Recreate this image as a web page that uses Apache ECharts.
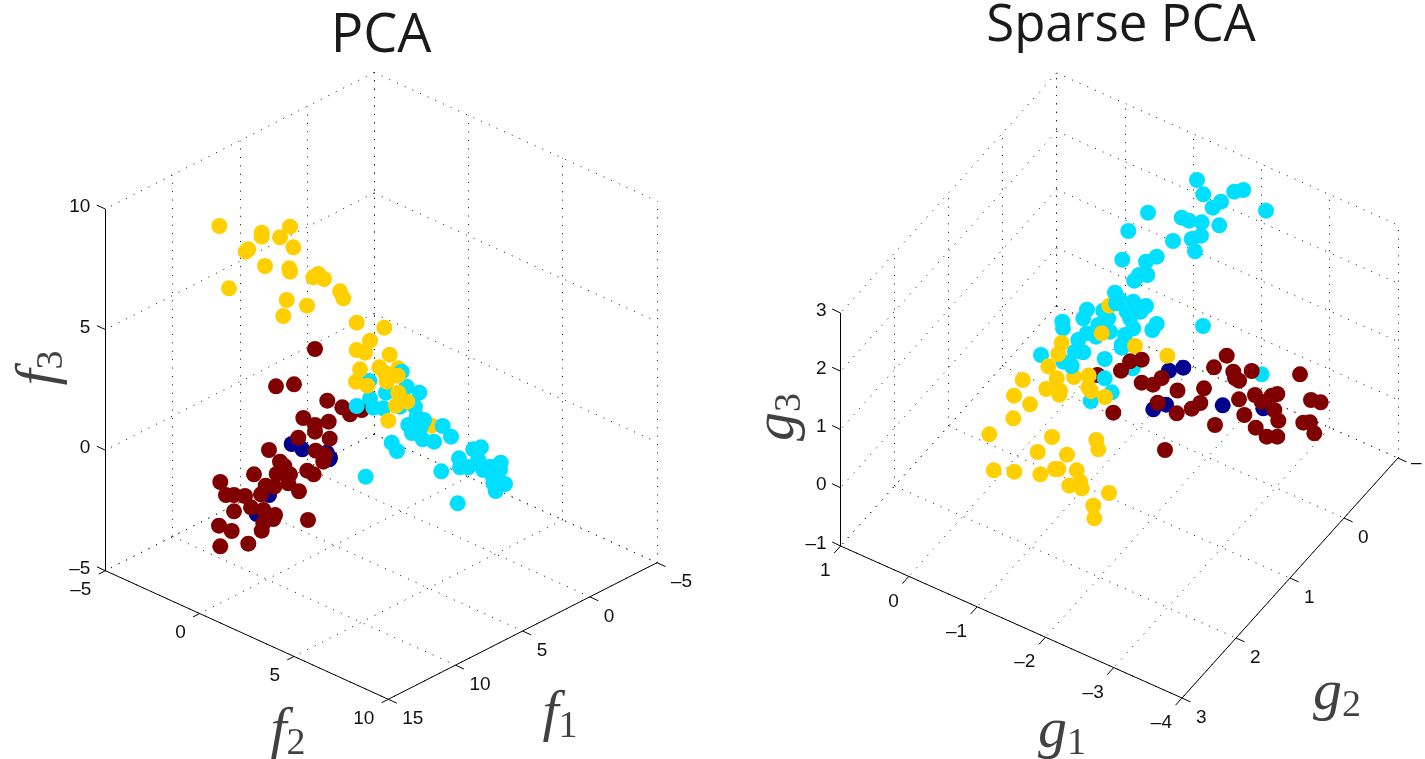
<!DOCTYPE html>
<html>
<head>
<meta charset="utf-8">
<style>html,body{margin:0;padding:0;background:#fff}#c{width:1425px;height:759px}</style>
<script src="https://cdn.jsdelivr.net/npm/echarts@6/dist/echarts.min.js"></script>
</head>
<body>
<div id="c"></div>
<script>
// Tick values
const f1Ticks = [-5, 0, 5, 10, 15];
const f2Ticks = [-5, 0, 5, 10];
const f3Ticks = [-5, 0, 5, 10];
const g1Ticks = [1, 0, -1, -2, -3, -4];
const g2Ticks = [-1, 0, 1, 2, 3];
const g3Ticks = [-1, 0, 1, 2, 3];

// PCA panel: points, in the panel's projected view plane
const pcaNavy = [[291.7,444],[302.3,449.3],[326.7,452.7],[329.3,459.3],[269,495],[256.7,514],[330,458]];
const pcaRed = [[315,349],[276,386.3],[294,384.3],[327.3,400.7],[342.3,407.3],[350,414.3],[361.7,410],[303.3,418],[315,425],[315,431.7],[328.7,421.7],[329.7,438.7],[298.3,437.7],[269,450],[315.7,450.7],[325,455],[323.3,461.7],[280,461.7],[284.3,466],[276.7,474],[290,474.3],[307.3,470.7],[313.7,474.3],[254,474.3],[288.3,483.3],[265.7,485.7],[274.3,486.7],[299,491.3],[220.3,482],[226,495],[234,495],[245,496],[261,494.3],[251,507.3],[263.3,510],[234,511.3],[275,515],[273.3,519],[263.3,523.3],[261.7,530.7],[308,520],[219,525.7],[231.7,531],[220.3,546.3],[248.3,543.7]];
const pcaYellowUnder = [[398.3,368.3],[431.7,425.7]];
const pcaCyan = [[369.3,381],[401.7,371.7],[370,398.3],[356.7,406],[386,392.7],[406.7,386.7],[419.3,392.7],[373.3,407.7],[383.3,408.3],[400,406.7],[415,406.7],[408.3,425],[416.7,416.7],[420.7,426.7],[424,420],[412,433],[422.7,439.3],[434,441.7],[442.7,426],[451,436.7],[391.7,442.7],[397,451],[365.7,476.7],[441.3,471.3],[457.7,503.3],[473.3,449.3],[481,447.3],[459,458.3],[460,467.3],[468.3,467.3],[478.3,460],[483.3,470],[490,466.7],[500.7,462.7],[500,470],[493.3,478.3],[505,484],[495.7,491],[493.3,483.3]];
const pcaYellow = [[219.3,226],[261.7,232.7],[261.7,236.7],[290,226.7],[280,237.3],[293.3,247.3],[248.3,249.3],[245.7,251.7],[265,266],[289.3,268.3],[290,271.7],[318.3,274],[313.3,277.3],[324,279],[340,291.3],[343.3,298.3],[229,288.3],[286.7,300],[307,305.7],[283.3,316],[356.7,322.7],[384.3,327.7],[370,340.7],[356.7,350],[365,352.7],[389.7,354.7],[360,369.3],[379.3,367.3],[385,373],[397.7,375.7],[356,381.7],[367.3,385.7],[386.7,381.7],[398.3,392.7],[407.3,401.7],[396,405.7],[388.3,420.7]];

// Sparse PCA panel
const spcaNavy = [[1169,370.7],[1183.3,367.7],[1166,404.7],[1153.3,409.3],[1222.7,405.3],[1263.3,408.3]];
const spcaRedUnder = [[1097.5,375]];
const spcaCyanUnder = [[1261.7,374.3],[1132.7,368.3],[1111.7,392.3],[1090.7,401.2],[1203,326],[1197,180],[1203.3,194.3],[1243.3,190],[1234.3,191.7],[1221,201.7],[1212.7,207.7],[1266,210.7],[1148,212.7],[1181.7,217.7],[1189,220.7],[1201.7,222.3],[1219.3,225.3],[1128.3,231],[1173,241],[1201,235.7],[1191.7,239],[1195,251.3],[1122.3,259.7],[1156.7,256.7],[1146,261.7],[1147.3,275],[1139,275],[1134.3,280.7],[1133.3,301.7],[1146,306],[1140.7,311.7],[1087,309.7],[1083.3,318.3],[1103.3,310.7],[1062.3,321.7],[1063,328.3],[1126.7,311.7],[1130,318.3],[1156.7,324],[1152.3,330],[1133.3,328.3],[1108.3,318.3],[1098.3,325],[1110,331.7],[1125,335],[1086.7,333.3],[1096,336.7],[1078.3,340],[1121.7,345],[1041,355],[1075,351.7],[1083.3,352.3],[1063.3,361.7],[1104.7,359],[1121.7,347.7]];
const spcaYellow = [[1109.3,305.7],[1101.7,333.3],[1061.7,343],[1135,346],[1058.3,354],[1048.3,366.3],[1022.7,380],[1056.7,378.3],[1074,377],[1088.7,375.5],[1046.3,389],[1060,390.7],[1059.3,394.7],[1088.3,387.3],[1091,391.2],[1105,397],[1030,404.3],[1167.3,355.7],[1014,395.7],[1013.3,418.3],[989.3,434.3],[1052,437],[1096.3,440],[1098.3,449.3],[1037.7,452],[1067,454.7],[993.7,470.3],[1014.3,471.7],[1040.3,474.3],[1055,469],[1058.3,469],[1076.7,470.3],[1080,481.7],[1069.3,485.7],[1081.7,488.3],[1109,493],[1093.3,505.7],[1094.3,518.3]];
const spcaCyanTop = [[1071.7,366],[1104.7,378.3],[1116,303.3],[1115,292.7],[1120,300]];
const spcaRed = [[1121,370.7],[1130,361.3],[1141.7,359.7],[1141.7,382.7],[1153,384.7],[1161.7,378],[1177.5,390.5],[1226.7,355.7],[1214,367.3],[1233.3,371.7],[1235,378],[1239,380.7],[1251.7,371],[1300,374.3],[1204,388.3],[1157.7,402.7],[1200.3,403],[1191.7,408.7],[1176.7,413.3],[1239,399.3],[1255,395],[1261.7,401.7],[1271.7,395.7],[1277.3,394],[1274.3,410],[1244.3,415],[1278.3,420.7],[1215,425],[1255.7,427.7],[1266.7,436.7],[1277.3,436.7],[1303.3,422.7],[1310,422.3],[1314.3,433.3],[1311,400],[1320.7,402.3],[1165,450],[1113.3,412.7]];

const NAVY = '#00008F', RED = '#800000', CYAN = '#00DFFF', YELLOW = '#FFCF00';
const INK = '#111111';

// View projections of each 3-D box
const projA = (a, b, c) => [105.4 + (a - 15) * -13.435 + (b + 5) * 18.86, 570.7 + (a - 15) * 6.83 + (b + 5) * 8.573 - (c + 5) * 24.11];
const projB = (a, b, c) => [840.6 + (a - 1) * -68.28 + (b - 3) * -54, 546 + (a - 1) * -30.4 + (b - 3) * 60 - (c + 1) * 58.25];

function boxParts(P, A, B, C, cfg) {
  const a0 = cfg.aBack, a1 = cfg.aFront, b0 = cfg.bBack, b1 = cfg.bFront;
  const c0 = C[0], c1 = C[C.length - 1];
  const grid = [], axes = [], labels = [];
  const seg = (arr, p, q) => arr.push({ coords: [p, q] });
  // floor
  A.forEach(a => seg(grid, P(a, b0, c0), P(a, b1, c0)));
  B.forEach(b => seg(grid, P(a0, b, c0), P(a1, b, c0)));
  // back wall along A (at b = b0)
  A.forEach(a => seg(grid, P(a, b0, c0), P(a, b0, c1)));
  C.forEach(c => seg(grid, P(a0, b0, c), P(a1, b0, c)));
  // back wall along B (at a = a0)
  B.forEach(b => seg(grid, P(a0, b, c0), P(a0, b, c1)));
  C.forEach(c => seg(grid, P(a0, b0, c), P(a0, b1, c)));
  // axes
  seg(axes, P(a1, b0, c0), P(a1, b1, c0));
  seg(axes, P(a1, b1, c0), P(a0, b1, c0));
  seg(axes, P(a1, b0, c0), P(a1, b0, c1));
  const shift = (p, d) => [p[0] + d[0], p[1] + d[1]];
  B.forEach(b => {
    const p = P(a1, b, c0);
    seg(axes, p, shift(p, cfg.tickB));
    labels.push({ value: shift(p, cfg.labB), name: String(b).replace('-', '\u2013'), align: 'right' });
  });
  A.forEach(a => {
    const p = P(a, b1, c0);
    seg(axes, p, shift(p, cfg.tickA));
    if (a === cfg.cutA) {
      // label runs off the page edge in the source: only its minus sign survives
      labels.push({ value: shift(p, cfg.labCut), name: '\u2013', align: 'left' });
      return;
    }
    labels.push({ value: shift(p, cfg.labA), name: String(a).replace('-', '\u2013'), align: 'left' });
  });
  C.forEach(c => {
    const p = P(a1, b0, c);
    seg(axes, p, shift(p, cfg.tickC));
    labels.push({ value: shift(p, cfg.labC), name: String(c).replace('-', '\u2013'), align: 'right' });
  });
  return { grid, axes, labels };
}

// PCA: a = f1, b = f2, c = f3. Sparse PCA: a = g2, b = g1
const boxA = boxParts(projA, f1Ticks, f2Ticks, f3Ticks, {
  aBack: -5, aFront: 15, bBack: -5, bFront: 10,
  tickB: [-6.7, 3.4], labB: [-14, 19.5], tickA: [8.5, 3.9], labA: [14, 19.5], tickC: [-8.5, -3.9], labC: [-15, -2]
});
const projB2 = (a, b, c) => projB(b, a, c);
const boxB = boxParts(projB2, g2Ticks, g1Ticks, g3Ticks, {
  aBack: -1, aFront: 3, bBack: 1, bFront: -4, cutA: -1, labCut: [13, 5],
  tickB: [-6.5, 7.2], labB: [-10, 25], tickA: [8.6, 3.9], labA: [14, 20], tickC: [-8.5, -4], labC: [-14, -2.5]
});

const names = [
  { value: [560, 715], f: 'f', n: '1', rot: 0, g: 0 },
  { value: [288, 732], f: 'f', n: '2', rot: 0, g: 0 },
  { value: [40, 368], f: 'f', n: '3', rot: 90, g: 0 },
  { value: [1062, 732], f: 'g', n: '1', rot: 0, g: 1 },
  { value: [1337, 694], f: 'g', n: '2', rot: 0, g: 1 },
  { value: [778, 417], f: 'g', n: '3', rot: 90, g: 1 }
];

function dots(name, color, data, g) {
  return { type: 'scatter', name, data, xAxisIndex: g, yAxisIndex: g, symbol: 'circle', symbolSize: 16,
    itemStyle: { color, opacity: 1 }, silent: true, animation: false, clip: false };
}
function wire(box, g) {
  return [
    { type: 'lines', coordinateSystem: 'cartesian2d', xAxisIndex: g, yAxisIndex: g, data: box.grid, silent: true, animation: false, clip: false,
      lineStyle: { color: '#111', width: 1, type: [1, 7.4], opacity: 1, curveness: 0 }, symbol: 'none' },
    { type: 'lines', coordinateSystem: 'cartesian2d', xAxisIndex: g, yAxisIndex: g, data: box.axes, silent: true, animation: false, clip: false,
      lineStyle: { color: '#000', width: 1, opacity: 1, curveness: 0 }, symbol: 'none' },
    { type: 'scatter', xAxisIndex: g, yAxisIndex: g, symbolSize: 0, silent: true, animation: false, clip: false,
      data: box.labels.map(d => ({ value: d.value, name: d.name, label: { align: d.align } })),
      label: { show: true, position: 'inside', formatter: p => p.name, color: INK, textBorderWidth: 0, textBorderColor: 'transparent', opacity: 1,
        fontFamily: 'Liberation Sans', fontSize: 19, verticalAlign: 'middle' } }
  ];
}
function nameSeries(g) {
  return { type: 'scatter', xAxisIndex: g, yAxisIndex: g, symbolSize: 0, silent: true, animation: false, clip: false,
    data: names.filter(n => n.g === g).map(n => ({
      value: n.value, name: n.f + n.n,
      label: { rotate: n.rot, formatter: '{v|' + n.f + '}{s|' + n.n + '}' }
    })),
    label: { show: true, position: 'inside', align: 'center', verticalAlign: 'middle', color: INK, textBorderWidth: 0, textBorderColor: 'transparent',
      rich: {
        v: { fontFamily: 'Liberation Serif', fontStyle: 'italic', fontSize: 58, color: INK, textBorderWidth: 0, textBorderColor: 'transparent', lineHeight: 70, verticalAlign: 'middle' },
        s: { fontFamily: 'Liberation Serif', fontSize: 38, color: INK, textBorderWidth: 0, textBorderColor: 'transparent', lineHeight: 70, padding: [24, 0, 0, 0], verticalAlign: 'middle' }
      } } };
}

const chart = echarts.init(document.getElementById('c'), null, { renderer: 'canvas' });
const axisOff = { type: 'value', show: false, scale: false };
chart.setOption({
  animation: false,
  backgroundColor: '#fff',
  title: [
    { text: 'PCA', left: 376, top: 5, textAlign: 'center', textStyle: { fontFamily: 'Open Sans', fontWeight: 400, fontSize: 54, color: '#1a1a1a' } },
    { text: 'Sparse PCA', left: 1116, top: -4, textAlign: 'center', textStyle: { fontFamily: 'Open Sans', fontWeight: 400, fontSize: 51, color: '#1a1a1a' } }
  ],
  grid: [
    { left: 0, top: 0, width: 712, height: 759 },
    { left: 712, top: 0, width: 713, height: 759 }
  ],
  xAxis: [ { ...axisOff, min: 0, max: 712, gridIndex: 0 }, { ...axisOff, min: 712, max: 1425, gridIndex: 1 } ],
  yAxis: [ { ...axisOff, min: 0, max: 759, inverse: true, gridIndex: 0 }, { ...axisOff, min: 0, max: 759, inverse: true, gridIndex: 1 } ],
  series: [
    ...wire(boxA, 0), ...wire(boxB, 1),
    nameSeries(0), nameSeries(1),
    dots('PCA class 1', NAVY, pcaNavy, 0),
    dots('PCA class 2', RED, pcaRed, 0),
    dots('PCA class 3 (below)', YELLOW, pcaYellowUnder, 0),
    dots('PCA class 4', CYAN, pcaCyan, 0),
    dots('PCA class 3', YELLOW, pcaYellow, 0),
    dots('Sparse class 1', NAVY, spcaNavy, 1),
    dots('Sparse class 2 (below)', RED, spcaRedUnder, 1),
    dots('Sparse class 4', CYAN, spcaCyanUnder, 1),
    dots('Sparse class 3', YELLOW, spcaYellow, 1),
    dots('Sparse class 4 (top)', CYAN, spcaCyanTop, 1),
    dots('Sparse class 2', RED, spcaRed, 1)
  ]
});
</script>
</body>
</html>
